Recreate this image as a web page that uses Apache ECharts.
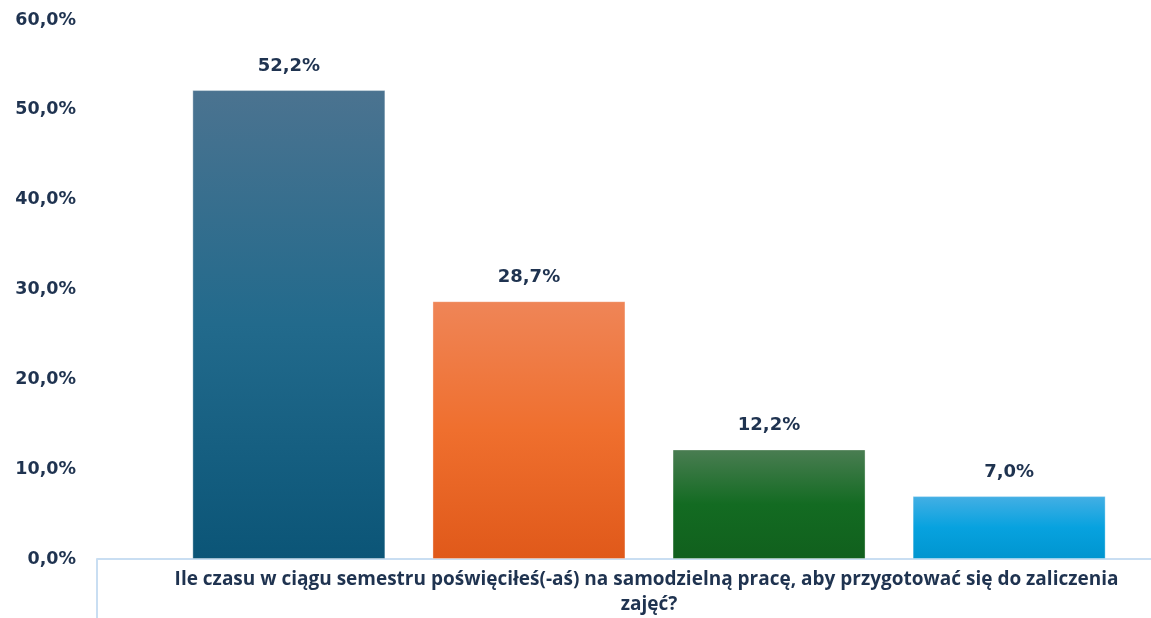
<!DOCTYPE html>
<html>
<head>
<meta charset="utf-8">
<script src="https://cdn.jsdelivr.net/npm/echarts@6/dist/echarts.min.js"></script>
<style>
html,body{margin:0;padding:0;background:#fff;}
#chart{width:1151px;height:618px;}
</style>
</head>
<body>
<div id="chart"></div>
<script>
const categories = ['Ile czasu w ciągu semestru poświęciłeś(-aś) na samodzielną pracę, aby przygotować się do zaliczenia zajęć?'];
const seriesNames = ['Odpowiedź 1', 'Odpowiedź 2', 'Odpowiedź 3', 'Odpowiedź 4'];
const seriesValues = [[52.2], [28.7], [12.2], [7.0]];
const yTicks = { min: 0, max: 60, interval: 10 };
const gradients = [
  ['#4b7390', '#226a8c', '#0b5577'],
  ['#ef8557', '#ef6f2e', '#e0591a'],
  ['#4a7d52', '#136b22', '#11601d'],
  ['#44afe4', '#07a2df', '#0095cf']
];
const textColor = '#1f3350';
const fmt = v => Number(v).toFixed(1).replace('.', ',') + '%';

const chart = echarts.init(document.getElementById('chart'));
chart.setOption({
  animation: false,
  backgroundColor: '#ffffff',
  grid: { left: 97, right: -50, top: 20, bottom: 59, containLabel: false, outerBoundsMode: 'none' },
  xAxis: {
    type: 'category',
    data: categories,
    axisLine: { show: true, lineStyle: { color: '#c9def2', width: 2 } },
    axisTick: { show: true, length: 62, lineStyle: { color: '#c9def2', width: 2 } },
    axisLabel: {
      color: textColor,
      fontFamily: 'Open Sans',
      fontWeight: 'bold',
      fontSize: 19,
      width: 1040,
      overflow: 'break',
      lineHeight: 25,
      margin: 8,
      align: 'center',
      hideOverlap: false
    }
  },
  yAxis: {
    type: 'value',
    min: yTicks.min,
    max: yTicks.max,
    interval: yTicks.interval,
    splitLine: { show: false },
    axisLine: { show: false },
    axisTick: { show: false },
    axisLabel: {
      formatter: fmt,
      color: textColor,
      fontFamily: 'DejaVu Sans',
      fontWeight: 'bold',
      fontSize: 17.5,
      margin: 21
    }
  },
  series: seriesValues.map((vals, i) => ({
    name: seriesNames[i],
    type: 'bar',
    data: vals,
    barWidth: 193,
    barGap: '24.4%',
    itemStyle: {
      color: new echarts.graphic.LinearGradient(0, 0, 0, 1, [
        { offset: 0, color: gradients[i][0] },
        { offset: 0.5, color: gradients[i][1] },
        { offset: 1, color: gradients[i][2] }
      ]),
      borderColor: 'rgba(255,255,255,0.35)',
      borderWidth: 1
    },
    label: {
      show: true,
      position: 'top',
      distance: 15,
      formatter: p => fmt(p.value),
      color: textColor,
      fontFamily: 'DejaVu Sans',
      fontWeight: 'bold',
      fontSize: 18
    }
  }))
});
</script>
</body>
</html>
